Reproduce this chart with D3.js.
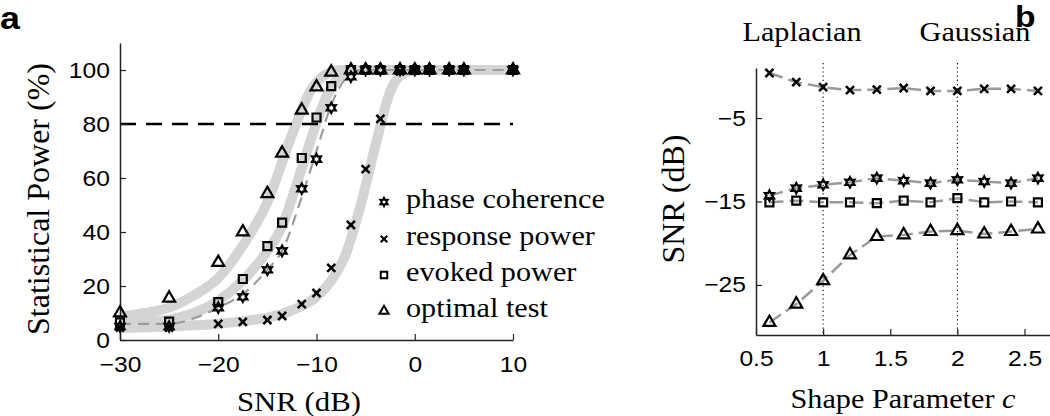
<!DOCTYPE html>
<html><head><meta charset="utf-8">
<script src="https://cdn.jsdelivr.net/npm/d3@7"></script>
<style>body{margin:0;background:#fff}</style></head>
<body>
<svg id="chart" width="1050" height="416"></svg>
<script>
// ---------- Panel a data ----------
const snrDb = [-30, -25, -20, -17.5, -15, -13.5, -11.5, -10, -8.5, -6.5, -5, -3.5, -1.5, 0, 1.5, 3.5, 5, 10];
const phaseCoherence = [5, 5, 12, 16, 26, 33, 56, 67, 86, 97.5, 100, 100, 100, 100, 100, 100, 100, 100];
const responsePower  = [4.6, 4.6, 6, 6.7, 7.4, 8.9, 13.3, 17.4, 26.7, 42.6, 63.3, 81.9, 99.5, 100, 100, 100, 100, 100];
const evokedPower    = [6.5, 6.8, 14, 22.6, 34.8, 43.5, 67.4, 82.4, 94, 100, 100, 100, 100, 100, 100, 100, 100, 100];
const optimalTest    = [10, 15.5, 28.7, 40, 54.2, 69.2, 85.1, 93.7, 99.2, 100, 100, 100, 100, 100, 100, 100, 100, 100];

// fitted curves
const fitOptimalX  = [-30, -27.5, -25, -22.5, -20, -17.5, -15, -12.5, -10.5, -9, -7.5, -6, 10];
const fitOptimalY  = [8.5, 10, 12, 16.5, 23, 35, 51, 76, 93, 98.5, 100, 100, 100];
const fitEvokedX   = [-30, -27.5, -25, -22.5, -20, -17.5, -15, -13.5, -12, -10.5, -9, -7.5, -6, 10];
const fitEvokedY   = [6.5, 6.8, 7.5, 10, 14.5, 22, 33, 42, 58, 75, 90, 98, 100, 100];
const fitResponseX = [-30, -25, -20, -17.5, -15, -12.5, -10, -8.5, -7, -5.5, -4, -2.5, -1, 0.5, 10];
const fitResponseY = [4.5, 5, 6, 7, 8.3, 11, 16, 22, 32, 50, 72, 92, 99, 100, 100];
const fitPhaseX    = [-30, -25, -22.5, -20, -17.5, -15, -13.5, -11.5, -10, -8.5, -7, -5.5, -4, 10];
const fitPhaseY    = [6, 6, 8, 12, 17, 26, 33, 53, 70, 87, 97, 100, 100, 100];

const threshold = 80;
const aXTicks = [-30, -20, -10, 0, 10];
const aYTicks = [0, 20, 40, 60, 80, 100];
const legendLabels = ["phase coherence", "response power", "evoked power", "optimal test"];

// ---------- Panel b data ----------
const shapeC = [0.6, 0.8, 1.0, 1.2, 1.4, 1.6, 1.8, 2.0, 2.2, 2.4, 2.6];
const bResponse = [0.4, -0.7, -1.3, -1.65, -1.6, -1.4, -1.75, -1.75, -1.5, -1.5, -1.75];
const bPhase    = [-14.3, -13.4, -13.0, -12.7, -12.2, -12.5, -12.8, -12.4, -12.6, -12.8, -12.2];
const bEvoked   = [-15.1, -14.9, -15.1, -15.1, -15.2, -14.9, -15.1, -14.6, -15.1, -15.0, -15.1];
const bOptimal  = [-29.5, -27.3, -24.5, -21.4, -19.2, -19.0, -18.6, -18.5, -18.9, -18.6, -18.3];
const bXTicks = [0.5, 1, 1.5, 2, 2.5];
const bYTicks = [-25, -15, -5];
const refLines = [1, 2];
const refLabels = ["Laplacian", "Gaussian"];

// ---------- setup ----------
const SX = 1.12;
const SANS = "'Liberation Sans', Arial, Helvetica, sans-serif";
const SERIF = "'Liberation Serif', 'Times New Roman', Times, serif";
const svg = d3.select("#chart");

function addText(x, y, s, o = {}) {
  const sx = o.sx === undefined ? SX : o.sx;
  const g = svg.append("g").attr("transform",
    `translate(${x},${y})` + (o.rotate ? ` rotate(${o.rotate})` : "") + ` scale(${sx},1)`);
  const t = g.append("text")
    .attr("text-anchor", o.anchor || "start")
    .attr("font-family", o.family || SERIF)
    .attr("font-size", o.size || 27)
    .attr("font-weight", o.weight || "normal")
    .attr("fill", "#000");
  if (Array.isArray(s)) {
    s.forEach(p => t.append("tspan").attr("font-style", p.italic ? "italic" : "normal").text(p.t));
  } else t.text(s);
  return t;
}

// custom hexagram symbol
const symbolHexagram = {
  draw(ctx, size) {
    const R = Math.sqrt(size) * 0.62, r = R * 0.55;
    for (let i = 0; i < 12; i++) {
      const a = -Math.PI / 2 + i * Math.PI / 6;
      const rr = i % 2 === 0 ? R : r;
      const px = rr * Math.cos(a), py = rr * Math.sin(a);
      if (i === 0) ctx.moveTo(px, py); else ctx.lineTo(px, py);
    }
    ctx.closePath();
  }
};
const markerDefs = {
  phase:    {type: symbolHexagram, size: 70, lsize: 45},
  response: {type: d3.symbolTimes, size: 44, lsize: 30},
  evoked:   {type: d3.symbolSquare, size: 64, lsize: 42},
  optimal:  {type: d3.symbolTriangle, size: 62, lsize: 36}
};
function drawMarkers(xs, ys, xScale, yScale, key, sw) {
  const m = markerDefs[key];
  const sym = d3.symbol().type(m.type).size(m.size);
  svg.append("g").selectAll("path").data(xs.map((x, i) => [x, ys[i]])).join("path")
    .attr("d", sym)
    .attr("transform", d => `translate(${xScale(d[0])},${yScale(d[1])})`)
    .attr("fill", "none").attr("stroke", "#000").attr("stroke-width", sw || 2.2)
    .attr("stroke-linejoin", "miter");
}
function styleAxis(g) {
  g.select(".domain").attr("stroke", "#222").attr("stroke-width", 1.5);
  g.selectAll(".tick line").attr("stroke", "#222").attr("stroke-width", 1.2);
  g.selectAll(".tick text").attr("font-size", 22).attr("font-family", SANS)
    .attr("fill", "#000").attr("transform", `scale(${SX},1)`);
}

// ---------- Panel a ----------
const xA = d3.scaleLinear().domain([-30, 10]).range([120, 513]);
const yA = d3.scaleLinear().domain([0, 110]).range([340, 43]);

const bandLine = d3.line().x(d => xA(d[0])).y(d => yA(d[1])).curve(d3.curveMonotoneX);
[[fitOptimalX, fitOptimalY], [fitEvokedX, fitEvokedY], [fitResponseX, fitResponseY]].forEach(([xs, ys]) => {
  svg.append("path").attr("d", bandLine(xs.map((x, i) => [x, ys[i]])))
    .attr("fill", "none").attr("stroke", "#d4d4d4").attr("stroke-width", 10)
    .attr("stroke-linecap", "butt");
});
svg.append("path").attr("d", bandLine(fitPhaseX.map((x, i) => [x, fitPhaseY[i]])))
  .attr("fill", "none").attr("stroke", "#9c9c9c").attr("stroke-width", 2.2)
  .attr("stroke-dasharray", "11,7");

svg.append("line").attr("x1", xA(-30)).attr("x2", xA(10))
  .attr("y1", yA(threshold)).attr("y2", yA(threshold))
  .attr("stroke", "#000").attr("stroke-width", 2.5).attr("stroke-dasharray", "16,10");

const axA_x = svg.append("g").attr("transform", `translate(0,${yA(0)})`)
  .call(d3.axisBottom(xA).tickValues(aXTicks).tickSizeInner(-6).tickSizeOuter(0).tickPadding(16));
styleAxis(axA_x);
const axA_y = svg.append("g").attr("transform", `translate(${xA(-30)},0)`)
  .call(d3.axisLeft(yA).tickValues(aYTicks).tickSizeInner(-6).tickSizeOuter(0).tickPadding(9));
styleAxis(axA_y);

drawMarkers(snrDb, phaseCoherence, xA, yA, "phase");
drawMarkers(snrDb, responsePower, xA, yA, "response", 2.5);
drawMarkers(snrDb, evokedPower, xA, yA, "evoked");
drawMarkers(snrDb, optimalTest, xA, yA, "optimal");

// legend
const legKeys = ["phase", "response", "evoked", "optimal"];
const legBase = [208, 245, 281, 317];
legKeys.forEach((k, i) => {
  const m = markerDefs[k];
  svg.append("path").attr("d", d3.symbol().type(m.type).size(m.lsize)())
    .attr("transform", `translate(384,${legBase[i] - 6})`)
    .attr("fill", "none").attr("stroke", "#000").attr("stroke-width", 2);
  addText(406, legBase[i], legendLabels[i], {size: 27});
});

addText(299, 411, "SNR (dB)", {anchor: "middle", size: 27.5});
addText(49, 199, "Statistical Power (%)", {anchor: "middle", size: 32, rotate: -90, sx: 1});
addText(0, 29, "a", {family: SANS, weight: "bold", size: 32});

// ---------- Panel b ----------
const xB = d3.scaleLinear().domain([0.5, 2.69]).range([756, 1050]);
const yB = d3.scaleLinear().domain([-31, 1]).range([335, 68]);

refLines.forEach(v => {
  svg.append("line").attr("x1", xB(v)).attr("x2", xB(v)).attr("y1", 63).attr("y2", yB(-31))
    .attr("stroke", "#000").attr("stroke-width", 1.1).attr("stroke-dasharray", "1.2,3");
});

const bLine = d3.line().x(d => xB(d[0])).y(d => yB(d[1]));
[bResponse, bPhase, bEvoked, bOptimal].forEach(ys => {
  svg.append("path").attr("d", bLine(shapeC.map((c, i) => [c, ys[i]])))
    .attr("fill", "none").attr("stroke", "#9a9a9a").attr("stroke-width", 2.5)
    .attr("stroke-dasharray", "14,6");
});

const axB_x = svg.append("g").attr("transform", `translate(0,${yB(-31)})`)
  .call(d3.axisBottom(xB).tickValues(bXTicks).tickFormat(d3.format("")).tickSizeInner(-6).tickSizeOuter(0).tickPadding(15));
styleAxis(axB_x);
const axB_y = svg.append("g").attr("transform", `translate(${xB(0.5)},0)`)
  .call(d3.axisLeft(yB).tickValues(bYTicks).tickSizeInner(-6).tickSizeOuter(0).tickPadding(9));
styleAxis(axB_y);

drawMarkers(shapeC, bResponse, xB, yB, "response", 2.5);
drawMarkers(shapeC, bPhase, xB, yB, "phase");
drawMarkers(shapeC, bEvoked, xB, yB, "evoked");
drawMarkers(shapeC, bOptimal, xB, yB, "optimal");

addText(802, 41, refLabels[0], {anchor: "middle", size: 27});
addText(975, 41, refLabels[1], {anchor: "middle", size: 27});
addText(903, 408, [{t: "Shape Parameter "}, {t: "c", italic: true}], {anchor: "middle", size: 27});
addText(684, 199, "SNR (dB)", {anchor: "middle", size: 32, rotate: -90, sx: 1});
addText(1015, 27, "b", {family: SANS, weight: "bold", size: 30});
</script>
</body></html>
